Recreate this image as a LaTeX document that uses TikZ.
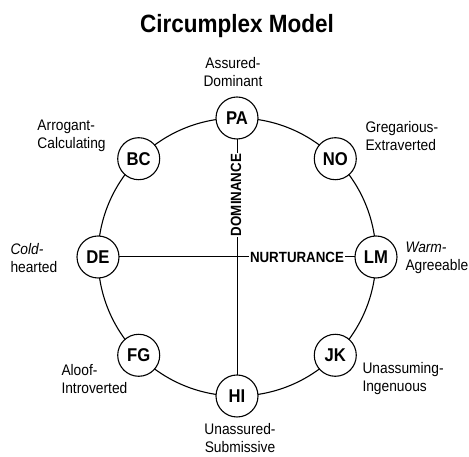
\documentclass[tikz,border=0pt]{standalone}
\usepackage{fontspec}
\setmainfont[FakeStretch=0.9]{Liberation Sans}
\usepackage{tikz}
\usetikzlibrary{calc}

\tikzset{
    octant/.style={draw,circle,fill=white,line width=1.1pt,minimum size=42pt,inner sep=0pt,font=\fontsize{18.5}{18.5}\selectfont\bfseries},
    trait/.style={font=\fontsize{15.3}{18}\selectfont,inner sep=0pt},
    axislabel/.style={fill=white,inner sep=1pt,font=\fontsize{14.8}{14.8}\selectfont\bfseries}
}

\begin{document}
\begin{tikzpicture}[x=1pt,y=1pt,line width=1pt]
    \useasboundingbox (0,0) rectangle (469,457);
    \node[font=\fontsize{25}{25}\selectfont\bfseries] (title) at (237,431) {Circumplex Model};
    \coordinate (c) at (237,200);
    \draw[line width=1.1pt] (c) circle (139);
    % axes first, nodes drawn over them
    \path (c) ++(90:139) coordinate (pa0) (c) ++(270:139) coordinate (hi0)
          (c) ++(180:139) coordinate (de0) (c) ++(0:139) coordinate (lm0);
    \draw (pa0) -- (hi0);
    \draw (de0) -- (lm0);
    \node[axislabel,rotate=90] (dom) at (236,262) {DOMINANCE};
    \node[axislabel] (nur) at (297,200) {NURTURANCE};
    \node[octant] (pa) at (pa0) {PA};
    \node[octant] (no) at ($(c)+(45:139)$) {NO};
    \node[octant] (lm) at (lm0) {LM};
    \node[octant] (jk) at ($(c)+(-45:139)$) {JK};
    \node[octant] (hi) at (hi0) {HI};
    \node[octant] (fg) at ($(c)+(225:139)$) {FG};
    \node[octant] (de) at (de0) {DE};
    \node[octant] (bc) at ($(c)+(135:139)$) {BC};
    % trait names
    \node[trait,align=center] (paname) at (233,385) {Assured-\\Dominant};
    \node[trait,align=left,anchor=west] (bcname) at (37,321) {Arrogant-\\Calculating};
    \node[trait,align=left,anchor=west] (noname) at (365,321) {Gregarious-\\Extraverted};
    \node[trait,align=left,anchor=west] (dename) at (10,199) {\itshape Cold-\\hearted};
    \node[trait,align=left,anchor=west] (lmname) at (405,199) {\itshape Warm-\\Agreeable};
    \node[trait,align=left,anchor=west] (fgname) at (61,78) {Aloof-\\Introverted};
    \node[trait,align=left,anchor=west] (jkname) at (362,78) {Unassuming-\\Ingenuous};
    \node[trait,align=center] (hiname) at (240,19) {Unassured-\\Submissive};
\end{tikzpicture}
\end{document}
